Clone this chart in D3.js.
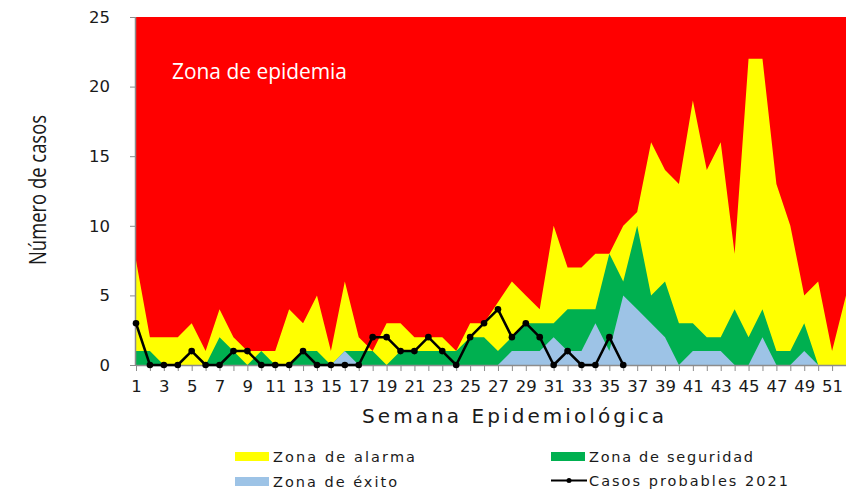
<!DOCTYPE html>
<html>
<head>
<meta charset="utf-8">
<script src="https://cdn.jsdelivr.net/npm/d3@7"></script>
<style>
  html, body { margin: 0; padding: 0; background: #ffffff; }
  svg { display: block; }
</style>
</head>
<body>
<svg id="chart" width="846" height="490"></svg>
<script>
// Epidemiological weeks 1..52
const weeks = d3.range(1, 53);

// Endemic channel limits (cumulative upper edges of each zone)
const exitoTop = [0,0,0,0,0,0,0,0,0,0, 0,0,0,0,0,1,0,0,0,0, 0,0,0,0,0,0,0,1,1,1, 2,1,1,3,1,5,4,3,2,0, 1,1,1,0,0,2,0,0,1,0, 0,0];
const seguridadTop = [1,1,0,0,0,0,2,1,0,1, 0,0,1,1,0,1,1,1,0,1, 1,1,1,1,2,2,1,2,3,3, 3,4,4,4,8,6,10,5,6,3, 3,2,2,4,2,4,1,1,3,0, 0,0];
const alarmaTop = [7.5,2,2,2,3,1,4,2,1,1, 1,4,3,5,1,6,2,1,3,3, 2,2,2,1,3,3,4.5,6,5,4, 10,7,7,8,8,10,11,16,14,13, 19,14,16,8,22,22,13,10,5,6, 1,5];

// Probable cases reported in 2021 (weeks 1..36)
const casos2021 = [3,0,0,0,1,0,0,1,1,0, 0,0,1,0,0,0,0,2,2,1, 1,2,1,0,2,3,4,2,3,2, 0,1,0,0,2,0];

const yTicks = [0, 5, 10, 15, 20, 25];
const xTickLabels = weeks.filter(w => w % 2 === 1);

const colors = {
  epidemia: "#ff0000",
  alarma: "#ffff00",
  seguridad: "#00b050",
  exito: "#9dc3e6",
  casos: "#000000",
  axis: "#8c8c8c"
};

const svg = d3.select("#chart");

const x = d3.scaleLinear().domain([1, 52]).range([136, 846]);
const y = d3.scaleLinear().domain([0, 25]).range([365, 17]);

const rows = weeks.map((w, i) => ({
  w,
  exito: exitoTop[i],
  seguridad: seguridadTop[i],
  alarma: alarmaTop[i]
}));

const plot = svg.append("g");

// Zones, painted from the epidemic zone down to the success zone
const zone = (key) => d3.area()
  .x(d => x(d.w))
  .y0(y(0))
  .y1(d => key === null ? y(25) : y(d[key]));

plot.append("path").datum(rows).attr("d", zone(null)).attr("fill", colors.epidemia);
plot.append("path").datum(rows).attr("d", zone("alarma")).attr("fill", colors.alarma);
plot.append("path").datum(rows).attr("d", zone("seguridad")).attr("fill", colors.seguridad);
plot.append("path").datum(rows).attr("d", zone("exito")).attr("fill", colors.exito);

// Zone label
plot.append("text")
  .attr("x", 172).attr("y", 79)
  .attr("fill", "#ffffff")
  .attr("font-family", "'Open Sans', 'Noto Sans', sans-serif")
  .attr("font-size", 21.5)
  .attr("textLength", 175)
  .attr("lengthAdjust", "spacingAndGlyphs")
  .text("Zona de epidemia");

// Axes
const yAxis = d3.axisLeft(y).tickValues(yTicks).tickSize(6).tickPadding(20).tickFormat(d3.format("d"));
const gy = svg.append("g").attr("transform", `translate(${x(1)},0)`).call(yAxis);
gy.selectAll("text")
  .attr("font-family", "'DejaVu Sans', sans-serif")
  .attr("font-size", 16.5)
  .attr("fill", "#1a1a1a");

const xAxis = d3.axisBottom(x).tickValues(weeks).tickSize(6).tickPadding(9)
  .tickFormat(d => (xTickLabels.includes(d) ? d : ""));
const gx = svg.append("g").attr("transform", `translate(0,${y(0)})`).call(xAxis);
gx.selectAll("text")
  .attr("font-family", "'DejaVu Sans', sans-serif")
  .attr("font-size", 16.5)
  .attr("fill", "#1a1a1a");

[gx, gy].forEach(g => {
  g.selectAll(".domain").attr("stroke", colors.axis).attr("stroke-width", 1.5);
  g.selectAll(".tick line").attr("stroke", colors.axis).attr("stroke-width", 1);
});
gx.select(".domain").attr("d", `M${x(1)},0.5H846`);
gy.select(".domain").attr("d", `M-0.5,${y(25)}V${y(0)}`);

// Probable cases 2021
const caseData = casos2021.map((v, i) => ({ w: i + 1, v }));
const line = d3.line().x(d => x(d.w)).y(d => y(d.v));
svg.append("path").datum(caseData)
  .attr("d", line)
  .attr("fill", "none")
  .attr("stroke", colors.casos)
  .attr("stroke-width", 2.5)
  .attr("stroke-linejoin", "round");
svg.append("g").selectAll("circle").data(caseData).join("circle")
  .attr("cx", d => x(d.w)).attr("cy", d => y(d.v)).attr("r", 3.3)
  .attr("fill", colors.casos);

// Axis titles
svg.append("text")
  .attr("x", 362).attr("y", 423)
  .attr("font-family", "'DejaVu Sans', sans-serif")
  .attr("font-size", 20)
  .attr("fill", "#1a1a1a")
  .attr("textLength", 302)
  .attr("lengthAdjust", "spacing")
  .text("Semana Epidemiológica");

svg.append("text")
  .attr("transform", "translate(46,265) rotate(-90)")
  .attr("font-family", "'Liberation Sans Narrow', 'Open Sans', sans-serif")
  .attr("font-size", 23)
  .attr("fill", "#1a1a1a")
  .attr("textLength", 150)
  .attr("lengthAdjust", "spacingAndGlyphs")
  .text("Número de casos");

// Legend
const legendItems = [
  { label: "Zona de alarma", color: colors.alarma, type: "box", x: 235, y: 456.5, len: 142 },
  { label: "Zona de seguridad", color: colors.seguridad, type: "box", x: 551, y: 456.5, len: 164 },
  { label: "Zona de éxito", color: colors.exito, type: "box", x: 235, y: 481.5, len: 124 },
  { label: "Casos probables 2021", color: colors.casos, type: "line", x: 551, y: 480.5, len: 199 }
];
const lg = svg.append("g").selectAll("g").data(legendItems).join("g")
  .attr("transform", d => `translate(${d.x},${d.y})`);
lg.filter(d => d.type === "box").append("rect")
  .attr("x", 0).attr("y", -4.5).attr("width", 34).attr("height", 9)
  .attr("fill", d => d.color);
lg.filter(d => d.type === "line").append("line")
  .attr("x1", 0).attr("x2", 36).attr("y1", 0).attr("y2", 0)
  .attr("stroke", d => d.color).attr("stroke-width", 2);
lg.filter(d => d.type === "line").append("circle")
  .attr("cx", 18).attr("cy", 0).attr("r", 2.5).attr("fill", d => d.color);
lg.append("text")
  .attr("x", 38).attr("y", 5)
  .attr("font-family", "'DejaVu Sans', sans-serif")
  .attr("font-size", 14.5)
  .attr("fill", "#1a1a1a")
  .attr("textLength", d => d.len)
  .attr("lengthAdjust", "spacing")
  .text(d => d.label);
</script>
</body>
</html>
